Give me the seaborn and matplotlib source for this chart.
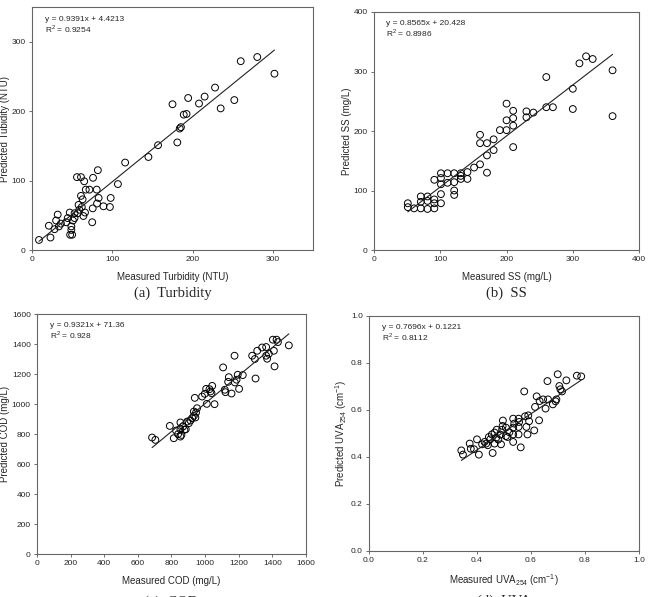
import numpy as np
import pandas as pd
import matplotlib
matplotlib.use("Agg")
import matplotlib.pyplot as plt
import seaborn as sns

# (a) Turbidity
turb_meas = [8.7, 21, 23, 32, 30, 28, 33.5, 36, 42.5, 44.5, 47, 47.5, 49, 50, 49, 51, 53,
             56, 61, 58, 61, 59, 63, 64, 65, 66, 67, 71.5, 75, 75.6, 76, 80.6, 81, 82, 83,
             89, 97, 98, 107, 116, 145, 157, 175, 181, 184, 185.5, 189, 192.5, 194.5, 208,
             215, 228, 235, 252, 260, 280.6, 302, 62, 57, 53]
turb_pred = [14.5, 35, 18, 51, 42.5, 30, 34, 38, 40, 46, 54, 22, 29, 22, 34, 42.5, 53,
             105, 105, 65, 78, 58, 73, 49, 99, 54, 87, 87, 40, 60, 104, 87, 67, 115, 75,
             63, 62, 75, 95, 126, 134, 151, 210, 155, 175, 177, 195, 196, 219, 211,
             221, 234, 204, 216, 272, 278, 254, 62, 53, 46]

# (b) SS
ss_meas = [51, 51, 60.5, 70.6, 70.6, 70.6, 80.7, 80.7, 80.7, 91, 91, 91, 91, 101, 101, 101,
           101, 101, 111, 111, 121, 121, 121, 121, 131, 131, 131, 141, 141, 151, 160, 160,
           160, 170.5, 170.5, 170.5, 180.5, 180.5, 190, 200, 200, 200, 210, 210, 210, 210,
           230, 230, 240.5, 260, 260, 270, 300, 300, 310, 320, 330, 360, 360]
ss_pred = [78.6, 72, 70, 90, 81, 70, 90, 82.5, 69, 85, 78.6, 70, 118, 129, 121, 110.5,
           94, 78.6, 129, 113, 129, 114, 100, 92.6, 129, 124.6, 119.5, 131, 119.5, 138.6,
           193.6, 179.6, 144, 179.6, 159, 130, 186, 168, 201.5, 201.5, 218, 246, 234,
           221.6, 209, 173, 233, 223, 231, 240, 290.7, 240, 271, 237, 313.7, 325.5, 321,
           302, 225]

# (c) COD
cod_meas = [684.5, 704, 790, 813.5, 827, 839, 853, 853, 859, 853, 869, 877, 885, 893, 903,
            913, 923, 933, 933, 942, 946, 938.5, 952, 982, 998, 1006, 1010, 1026, 1032,
            1042, 1038, 1056, 1107, 1117, 1121, 1141, 1137, 1157, 1175, 1177, 1187, 1194,
            1202, 1224, 1280, 1296, 1300, 1310, 1339, 1363, 1363, 1369, 1379, 1403, 1409,
            1413, 1425, 1433, 1498]
cod_pred = [776.6, 761, 854, 772, 823, 799, 832, 877, 794, 783, 850, 828, 832, 883, 872,
            890, 906, 921, 950, 910, 943, 1041, 972, 1050, 1068, 1101, 1001, 1099, 1084,
            1121, 1072, 999, 1244, 1095, 1079, 1179, 1148, 1070, 1322, 1144, 1162, 1195,
            1101, 1193, 1322, 1300, 1170, 1355, 1377, 1380, 1322, 1302, 1335, 1429, 1355,
            1251, 1429, 1413, 1391]

# (d) UVA254
uva_meas = [0.342, 0.348, 0.373, 0.377, 0.389, 0.400, 0.407, 0.419, 0.428, 0.434, 0.440,
            0.444, 0.449, 0.455, 0.458, 0.465, 0.465, 0.471, 0.473, 0.479, 0.487, 0.489,
            0.493, 0.495, 0.496, 0.507, 0.507, 0.513, 0.520, 0.534, 0.534, 0.534, 0.534,
            0.538, 0.554, 0.554, 0.554, 0.556, 0.562, 0.575, 0.578, 0.583, 0.587, 0.590,
            0.593, 0.612, 0.615, 0.621, 0.630, 0.632, 0.645, 0.654, 0.661, 0.663, 0.681,
            0.691, 0.694, 0.699, 0.705, 0.709, 0.715, 0.731, 0.770, 0.786]
uva_pred = [0.428, 0.410, 0.457, 0.435, 0.433, 0.475, 0.410, 0.454, 0.464, 0.457, 0.450,
            0.485, 0.475, 0.496, 0.417, 0.504, 0.457, 0.482, 0.516, 0.474, 0.495, 0.454,
            0.516, 0.532, 0.555, 0.489, 0.525, 0.485, 0.505, 0.464, 0.496, 0.525, 0.563,
            0.542, 0.563, 0.528, 0.496, 0.549, 0.441, 0.679, 0.573, 0.528, 0.496, 0.577,
            0.552, 0.513, 0.613, 0.658, 0.556, 0.638, 0.645, 0.606, 0.723, 0.645, 0.624,
            0.637, 0.645, 0.752, 0.702, 0.688, 0.679, 0.726, 0.746, 0.743]

# regression equations printed on the panels: (slope, intercept, eq text, R2 text)
fits = [(0.9391, 4.4213, "y = 0.9391x + 4.4213", "R$^2$ = 0.9254"),
        (0.8565, 20.428, "y = 0.8565x + 20.428", "R$^2$ = 0.8986"),
        (0.9321, 71.36, "y = 0.9321x + 71.36", "R$^2$ = 0.928"),
        (0.7696, 0.1221, "y = 0.7696x + 0.1221", "R$^2$ = 0.8112")]

panels = [
    dict(x=turb_meas, y=turb_pred, lim=350, ticks=[0, 100, 200, 300], fmt="{:.0f}",
         xlabel="Measured Turbidity (NTU)", ylabel="Predicted Tubidity (NTU)",
         caption="(a)  Turbidity", rect=[0.0494, 0.5812, 0.4336, 0.407], cap_dy=0.072),
    dict(x=ss_meas, y=ss_pred, lim=400, ticks=[0, 100, 200, 300, 400], fmt="{:.0f}",
         xlabel="Measured SS (mg/L)", ylabel="Predicted SS (mg/L)",
         caption="(b)  SS", rect=[0.5772, 0.5812, 0.409, 0.3987], cap_dy=0.072),
    dict(x=cod_meas, y=cod_pred, lim=1600, ticks=list(range(0, 1601, 200)), fmt="{:.0f}",
         xlabel="Measured COD (mg/L)", ylabel="Predicted COD (mg/L)",
         caption="(c)  COD", rect=[0.0571, 0.0720, 0.4151, 0.402], cap_dy=0.080),
    dict(x=uva_meas, y=uva_pred, lim=1.0, ticks=[0, 0.2, 0.4, 0.6, 0.8, 1.0], fmt="{:.1f}",
         xlabel="Measured UVA$_{254}$ (cm$^{-1}$)", ylabel="Predicted UVA$_{254}$ (cm$^{-1}$)",
         caption="(d)  UVA", rect=[0.5694, 0.0771, 0.4167, 0.3936], cap_dy=0.085),
]

sns.set_style("ticks")
plt.rcParams['font.family'] = ['Liberation Sans', 'DejaVu Sans']
plt.rcParams['mathtext.fontset'] = 'custom'
plt.rcParams['mathtext.rm'] = 'Liberation Sans'

fig = plt.figure(figsize=(6.48, 5.97), dpi=100)

for p, (slope, icpt, eq, r2) in zip(panels, fits):
    ax = fig.add_axes(p["rect"])
    df = pd.DataFrame({"meas": p["x"], "pred": p["y"]})
    sns.scatterplot(data=df, x="meas", y="pred", ax=ax, marker="o", s=24,
                    facecolor="none", edgecolor="black", linewidth=0.7)
    xs = np.array([df["meas"].min(), df["meas"].max()])
    ax.plot(xs, slope * xs + icpt, color="#222222", lw=0.8)
    ax.set_xlim(0, p["lim"])
    ax.set_ylim(0, p["lim"])
    ax.set_xticks(p["ticks"])
    ax.set_yticks(p["ticks"])
    ax.set_xticklabels([p["fmt"].format(t) for t in p["ticks"]])
    ax.set_yticklabels([p["fmt"].format(t) for t in p["ticks"]])
    ax.tick_params(labelsize=6, length=2.5, width=0.6, color="#555555", pad=2)
    for sp in ax.spines.values():
        sp.set_color("#666666")
        sp.set_linewidth(0.8)
    ax.set_xlabel(p["xlabel"], fontsize=7, labelpad=6)
    ax.set_ylabel(p["ylabel"], fontsize=7, labelpad=1)
    ax.text(0.047, 0.965, eq + "\n" + r2, transform=ax.transAxes, fontsize=6,
            va="top", ha="left", linespacing=1.0)
    cx = p["rect"][0] + p["rect"][2] / 2
    cy = p["rect"][1] - p["cap_dy"]
    fig.text(cx, cy, p["caption"], ha="center", va="center", fontsize=10.5,
             family="Liberation Serif")

fig.savefig("out.png", dpi=100)
